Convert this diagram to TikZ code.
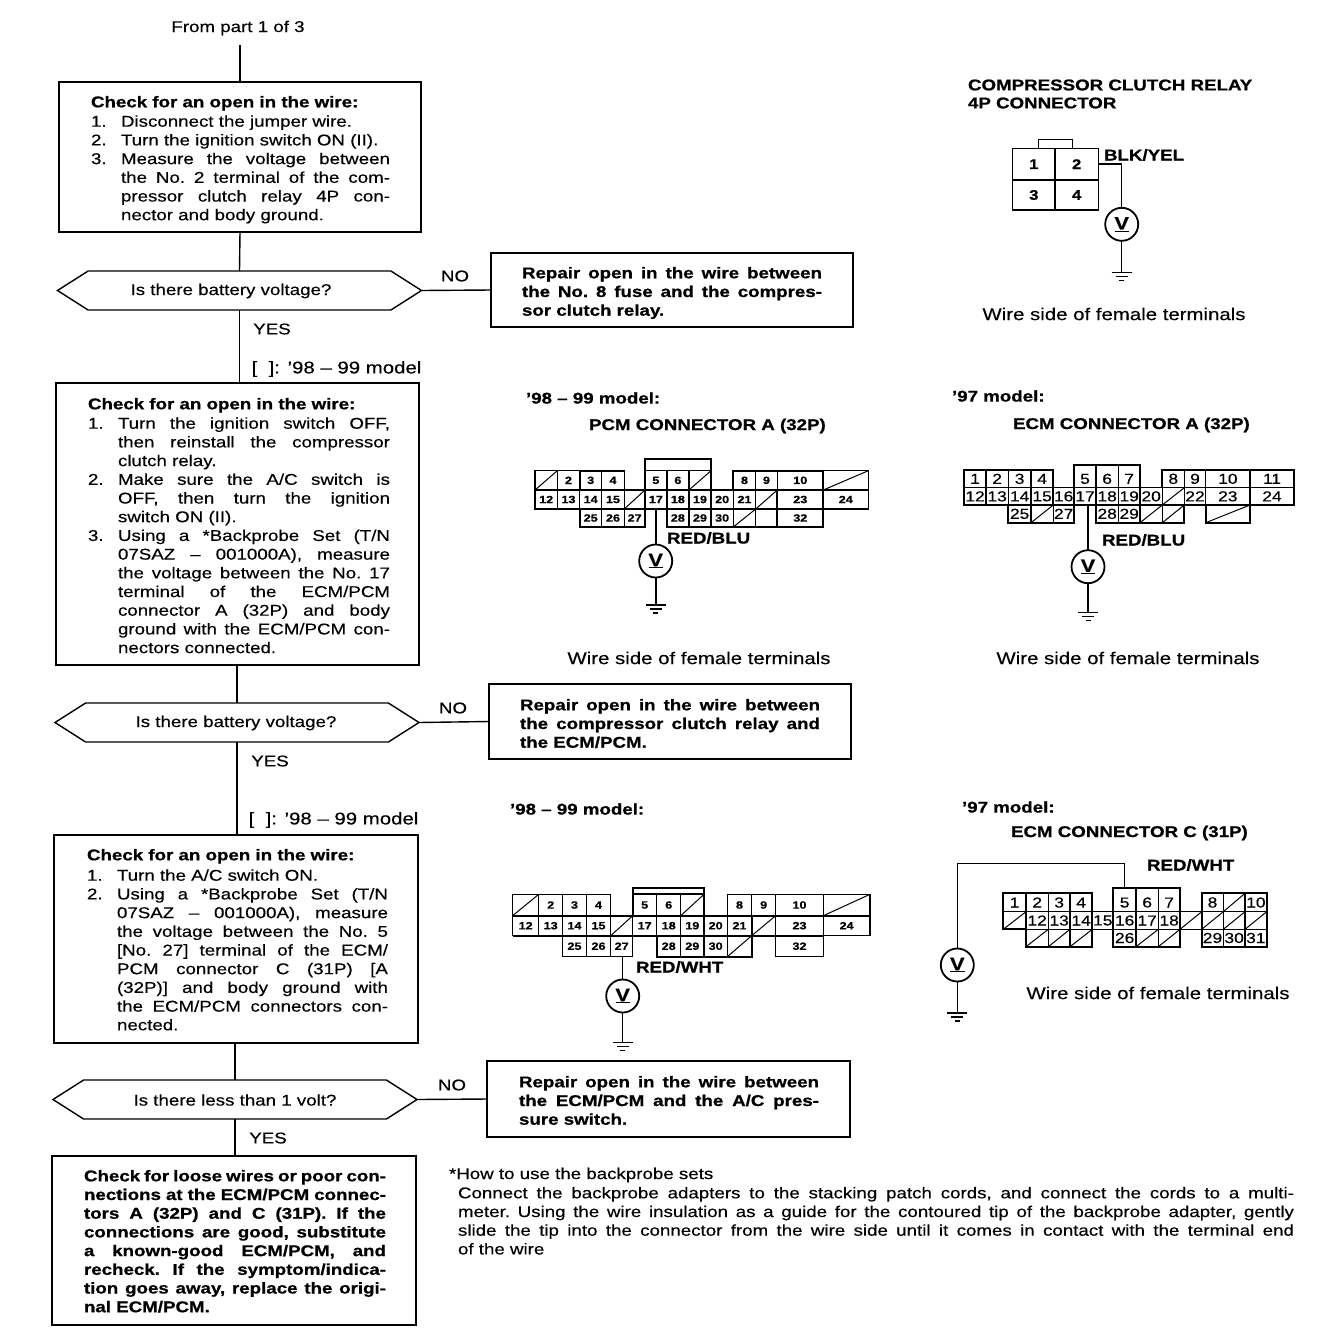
\documentclass[tikz,border=0pt]{standalone}
\usepackage{fontspec}
\setmainfont{Liberation Sans}[FakeStretch=1.2,UprightFeatures={FakeBold=0.35},BoldFeatures={FakeBold=0.8}]
\usetikzlibrary{shapes.symbols}

\newcommand{\bodyfont}{\fontsize{15.6}{18.7}\selectfont\frenchspacing}
\newlength{\hangw}\setlength{\hangw}{30pt}
% numbered step with hanging text
\newcommand{\stepitem}[2]{\par\hangindent=\hangw\hangafter=1\noindent\hbox to \hangw{#1\hfil}#2\par}
% one row of numbered pins: name prefix, top, bottom, xa/xb/number
\newcommand{\pinrow}[4]{\foreach \xa/\xb/\n in {#4}{
    \node[pin,minimum width={(\xb-\xa)*1pt},minimum height={(#3-#2)*1pt}] (#1\n) at ({(\xa+\xb)/2},{(#2+#3)/2}) {\n};}}
% same, empty pins with a stroke through them
\newcommand{\voidrow}[4]{\foreach \xa/\xb [count=\k] in {#4}{
    \node[pin,void,minimum width={(\xb-\xa)*1pt},minimum height={(#3-#2)*1pt}] (#1\k) at ({(\xa+\xb)/2},{(#2+#3)/2}) {};}}

\tikzset{
  every node/.style={inner sep=0pt,outer sep=0pt},
  wirethin/.style={line width=1.4pt},
  flowbox/.style={draw,line width=1.4pt,anchor=north west},
  steptext/.style={anchor=north west,text width=#1,align=justify,font=\bodyfont},
  boldtext/.style={steptext=#1,font=\bodyfont\bfseries},
  decide/.style={draw,line width=1.4pt,signal,signal to=west and east,signal pointer angle=65,
    minimum width=364pt,minimum height=39pt},
  lab/.style={font=\bodyfont},
  sidelab/.style={font=\fontsize{17}{19}\selectfont},
  headlab/.style={font=\bodyfont\bfseries},
  pin/.style={draw,line width=1.1pt,font=\fontsize{10.5}{12}\selectfont\bfseries},
  ecmpin/.style={pin/.append style={font=\fontsize{14.5}{16}\selectfont}},
  droppin/.style={pin/.append style={text height=15pt,text depth=0pt}},
  void/.style={path picture={\draw[line width=1pt] (path picture bounding box.south west)--(path picture bounding box.north east);}},
  meter/.style={draw,circle,line width=1.8pt,minimum size=33pt,font=\fontsize{18}{18}\selectfont\bfseries},
  gnd/.pic={\draw[line width=1.3pt] (-10,0)--(10,0) (-6,4)--(6,4) (-2.5,8)--(2.5,8);},
  shell/.style={line width=2.3pt}
}

\begin{document}
\begin{tikzpicture}[x=1pt,y=-1pt,line cap=butt,line join=miter]
  \useasboundingbox (0,0) rectangle (1344,1334);

  % ---- flow, left column ----
  \node[lab,minimum height=34pt] (from) at (238,28) {From part 1 of 3};
  \node[flowbox,minimum width=362pt,minimum height=150pt] (box1) at (59,82) {};
  \node[boldtext=299pt] (txt1h) at (91,96) {Check for an open in the wire:};
  \node[steptext=299pt] (txt1) at (91,108) {%
    \stepitem{1.}{Disconnect the jumper wire.}
    \stepitem{2.}{Turn the ignition switch ON (II).}
    \stepitem{3.}{Measure the voltage between\linebreak the No. 2 terminal of the com-\linebreak pressor clutch relay 4P con-\linebreak nector and body ground.}};
  \node[decide] (dec1) at (239.5,290.5) {};
  \node[lab] (dec1t) at (231,291) {Is there battery voltage?};
  \node[flowbox,minimum width=362pt,minimum height=74pt] (rep1) at (491,253) {};
  \node[boldtext=300pt] (rep1t) at (522,267) {Repair open in the wire between\linebreak the No. 8 fuse and the compres-\linebreak sor clutch relay.};
  \node[lab] (no1) at (455,276) {NO};
  \node[lab] (yes1) at (272,329) {YES};
  \node[sidelab] (mod1) at (336.5,369) {[ \ ]: ’98 – 99 model};
  \node[flowbox,minimum width=363pt,minimum height=282pt] (box2) at (56,383) {};
  \node[boldtext=302pt] (txt2h) at (88,398) {Check for an open in the wire:};
  \node[steptext=302pt] (txt2) at (88,410) {%
    \stepitem{1.}{Turn the ignition switch OFF,\linebreak then reinstall the compressor\linebreak clutch relay.}
    \stepitem{2.}{Make sure the A/C switch is\linebreak OFF, then turn the ignition\linebreak switch ON (II).}
    \stepitem{3.}{Using a *Backprobe Set (T/N\linebreak 07SAZ – 001000A), measure\linebreak the voltage between the No. 17\linebreak terminal of the ECM/PCM\linebreak connector A (32P) and body\linebreak ground with the ECM/PCM con-\linebreak nectors connected.}};
  \node[decide] (dec2) at (237,722.5) {};
  \node[lab] (dec2t) at (236,723) {Is there battery voltage?};
  \node[flowbox,minimum width=362pt,minimum height=75pt] (rep2) at (489,684) {};
  \node[boldtext=300pt] (rep2t) at (520,699) {Repair open in the wire between\linebreak the compressor clutch relay and\linebreak the ECM/PCM.};
  \node[lab] (no2) at (453,708) {NO};
  \node[lab] (yes2) at (270,761) {YES};
  \node[sidelab] (mod2) at (333.5,820) {[ \ ]: ’98 – 99 model};
  \node[flowbox,minimum width=364pt,minimum height=208pt] (box3) at (54,835) {};
  \node[boldtext=301pt] (txt3h) at (87,849) {Check for an open in the wire:};
  \node[steptext=301pt] (txt3) at (87,862) {%
    \stepitem{1.}{Turn the A/C switch ON.}
    \stepitem{2.}{Using a *Backprobe Set (T/N\linebreak 07SAZ – 001000A), measure\linebreak the voltage between the No. 5\linebreak{}[No. 27] terminal of the ECM/\linebreak PCM connector C (31P) [A\linebreak (32P)] and body ground with\linebreak the ECM/PCM connectors con-\linebreak nected.}};
  \node[decide] (dec3) at (235,1099.5) {};
  \node[lab] (dec3t) at (235,1100) {Is there less than 1 volt?};
  \node[flowbox,minimum width=363pt,minimum height=76pt] (rep3) at (487,1061) {};
  \node[boldtext=300pt] (rep3t) at (519,1076) {Repair open in the wire between\linebreak the ECM/PCM and the A/C pres-\linebreak sure switch.};
  \node[lab] (no3) at (452,1085) {NO};
  \node[lab] (yes3) at (268,1138) {YES};
  \node[flowbox,minimum width=364pt,minimum height=169pt] (box4) at (52,1156) {};
  \node[boldtext=302pt] (txt4) at (84,1170) {Check for loose wires or poor con-\linebreak nections at the ECM/PCM connec-\linebreak tors A (32P) and C (31P). If the\linebreak connections are good, substitute\linebreak a known-good ECM/PCM, and\linebreak recheck. If the symptom/indica-\linebreak tion goes away, replace the origi-\linebreak nal ECM/PCM.};
  \draw[wirethin] (box1.north |- from.south) -- (box1.north);
  \draw[wirethin] (box1.south) -- (dec1.north);
  \draw[wirethin] (dec1.south) -- (dec1.south |- box2.north);
  \draw[wirethin] (dec2.north |- box2.south) -- (dec2.north);
  \draw[wirethin] (dec2.south) -- (dec2.south |- box3.north);
  \draw[wirethin] (dec3.north |- box3.south) -- (dec3.north);
  \draw[wirethin] (dec3.south) -- (dec3.south |- box4.north);
  \draw[wirethin] (dec1.east) -- (rep1.west);
  \draw[wirethin] (dec2.east) -- (rep2.west);
  \draw[wirethin] (dec3.east) -- (rep3.west);

  % ---- backprobe note ----
  \node[lab,anchor=west] (noteh) at (449,1175) {*How to use the backprobe sets};
  \node[steptext=836pt] (note) at (458,1187) {Connect the backprobe adapters to the stacking patch cords, and connect the cords to a multi-\linebreak meter. Using the wire insulation as a guide for the contoured tip of the backprobe adapter, gently\linebreak slide the tip into the connector from the wire side until it comes in contact with the terminal end\linebreak of the wire};

  % ---- relay 4P ----
  \node[headlab,anchor=west] (t4p) at (968,85) {COMPRESSOR CLUTCH RELAY};
  \node[headlab,anchor=west] (t4pb) at (968,103) {4P CONNECTOR};
  \begin{scope}[pin/.append style={font=\fontsize{14}{16}\selectfont\bfseries,line width=1.5pt}]
    \pinrow{rl}{148.3}{180}{1012.7/1055/1,1055/1098.3/2}
    \pinrow{rl}{180}{210}{1012.7/1055/3,1055/1098.3/4}
  \end{scope}
  \draw[line width=1.1pt] (1038.3,148.3) |- (1072.7,139.3) -- (1072.7,148.3);
  \node[headlab,anchor=west] (bly) at (1104,155) {BLK/YEL};
  \node[meter] (mrl) at (1121.7,224.3) {\underline{V}};
  \coordinate (grl) at (1121.7,272.7);
  \draw[wirethin] (rl2.east) -| (mrl.north);
  \draw[wirethin] (mrl.south) -- (grl);
  \pic at (grl) {gnd};
  \node[sidelab] (wsrl) at (1114,314) {Wire side of female terminals};

  % ---- PCM connector A ----
  \node[headlab,anchor=west] (m98a) at (526,398) {’98 – 99 model:};
  \node[headlab,anchor=west] (tpa) at (589,426) {PCM CONNECTOR A (32P)};
  \voidrow{pav}{470.7}{490}{535/557.3,689/711,823.3/868.3}
  \pinrow{pa}{470.7}{490}{557.3/579.7/2,579.7/601.7/3,601.7/624.3/4,645/666.7/5,666.7/689/6,733.3/755.7/8,755.7/777.3/9,777.3/823.3/10}
  \voidrow{pav4}{490}{509}{624.3/645,755.7/777.3}
  \pinrow{pa}{490}{509}{535/557.3/12,557.3/579.7/13,579.7/601.7/14,601.7/624.3/15,645/666.7/17,666.7/689/18,689/711/19,711/733.3/20,733.3/755.7/21,777.3/823.3/23,823.3/868.3/24}
  \voidrow{pav7}{509}{527}{733.3/755.7}
  \pinrow{pa}{509}{527}{579.7/601.7/25,601.7/624.3/26,624.3/645/27,666.7/689/28,689/711/29,711/733.3/30,777.3/823.3/32}
  \draw[shell] (645,470.7) |- (711,459.3) -- (711,470.7);
  \draw[shell] (579.7,490) |- (624.3,470.7) (579.7,509) |- (645,527) -- (645,509);
  \draw[shell] (666.7,470.7) -- (666.7,527) -| (777.3,490) (711,490) -- (711,527) (733.3,490) |- (823.3,470.7) -- (823.3,527) -| (777.3,509);
  \node[headlab,anchor=west] (rba) at (667,538) {RED/BLU};
  \node[meter] (mpa) at (655.7,561) {\underline{V}};
  \coordinate (gpa) at (655.7,605);
  \draw[line width=2pt] (pa17.south -| mpa.north) -- (mpa.north);
  \draw[line width=2pt] (mpa.south) -- (gpa);
  \pic at (gpa) {gnd};
  \node[sidelab] (wspa) at (699,658) {Wire side of female terminals};

  % ---- ECM connector A ----
  \node[headlab,anchor=west] (m97a) at (952,396) {’97 model:};
  \node[headlab,anchor=west] (tea) at (1013,425) {ECM CONNECTOR A (32P)};
  \begin{scope}[ecmpin]
    \pinrow{ea}{470}{487.7}{964/986/1,986/1008.3/2,1008.3/1031/3,1031/1053.3/4,1162.3/1184.3/8,1184.3/1205.7/9,1205.7/1250/10,1250/1294/11}
    \begin{scope}[droppin]
      \pinrow{ea}{465}{487.7}{1074/1096/5,1096/1118.3/6,1118.3/1140/7}
    \end{scope}
    \pinrow{ea}{487.7}{505}{964/986/12,986/1008.3/13,1008.3/1031/14,1031/1053.3/15,1053.3/1074/16,1074/1096/17,1096/1118.3/18,1118.3/1140/19,1140/1162.3/20,1184.3/1205.7/22,1205.7/1250/23,1250/1294/24}
    \voidrow{eav}{487.7}{505}{1162.3/1184.3}
    \pinrow{ea}{505}{522.7}{1008.3/1031/25,1053.3/1074/27,1096/1118.3/28,1118.3/1140/29}
    \voidrow{eaw}{505}{522.7}{1031/1053.3,1140/1162.3,1162.3/1184.3,1205.7/1250}
  \end{scope}
  \draw[shell] (964,470) rectangle (1053.3,505) (1074,487.7) |- (1140,465) -- (1140,487.7);
  \draw[shell] (1008.3,505) |- (1074,522.7) -- (1074,505) (1096,505) |- (1184.3,522.7) -- (1184.3,505) (1162.3,487.7) |- (1294,470) |- (1140,505) (1205.7,505) |- (1250,522.7) -- (1250,505);
  \node[headlab,anchor=west] (rbb) at (1102,540) {RED/BLU};
  \node[meter] (mea) at (1088,566.7) {\underline{V}};
  \coordinate (gea) at (1088,612.7);
  \draw[wirethin] (ea17.south -| mea.north) -- (mea.north);
  \draw[wirethin] (mea.south) -- (gea);
  \pic at (gea) {gnd};
  \node[sidelab] (wsea) at (1128,658) {Wire side of female terminals};

  % ---- PCM connector A, second probe ----
  \node[headlab,anchor=west] (m98c) at (510,809) {’98 – 99 model:};
  \voidrow{pcv}{894.3}{915.7}{512.7/538.7,680.7/704,823.3/870}
  \pinrow{pc}{894.3}{915.7}{538.7/562.7/2,562.7/586.3/3,586.3/610.7/4,632.7/656.7/5,656.7/680.7/6,727.3/751.7/8,751.7/775.7/9,775.7/823.3/10}
  \voidrow{pcv4}{915.7}{935.7}{610.7/632.7,751.7/775.7}
  \pinrow{pc}{915.7}{935.7}{512.7/538.7/12,538.7/562.7/13,562.7/586.3/14,586.3/610.7/15,632.7/656.7/17,656.7/680.7/18,680.7/704/19,704/727.3/20,727.3/751.7/21,775.7/823.3/23,823.3/870/24}
  \voidrow{pcv7}{935.7}{956.7}{727.3/751.7}
  \pinrow{pc}{935.7}{956.7}{562.7/586.3/25,586.3/610.7/26,610.7/632.7/27,656.7/680.7/28,680.7/704/29,704/727.3/30,775.7/823.3/32}
  \draw[shell] (632.7,915.7) |- (704,888.3) -- (704,915.7) (632.7,894.3) -- (704,894.3);
  \draw[shell] (512.7,915.7) -- (870,915.7) (512.7,935.7) -- (823.3,935.7) (656.7,935.7) |- (751.7,956.7) -- (751.7,915.7);
  \node[headlab,anchor=west] (rwa) at (636,967) {RED/WHT};
  \node[meter] (mpc) at (622.7,996) {\underline{V}};
  \coordinate (gpc) at (622.7,1042.7);
  \draw[wirethin] (pc27.south -| mpc.north) -- (mpc.north);
  \draw[wirethin] (mpc.south) -- (gpc);
  \pic at (gpc) {gnd};

  % ---- ECM connector C ----
  \node[headlab,anchor=west] (m97c) at (962,807) {’97 model:};
  \node[headlab,anchor=west] (tec) at (1011,833) {ECM CONNECTOR C (31P)};
  \begin{scope}[ecmpin]
    \pinrow{ec}{893.3}{911.7}{1003.3/1026/1,1026/1048.3/2,1048.3/1070/3,1070/1092.3/4,1201.7/1223.3/8,1245/1266.7/10}
    \begin{scope}[droppin]
      \pinrow{ec}{888.3}{911.7}{1113.3/1136/5,1136/1158.3/6,1158.3/1180/7}
    \end{scope}
    \voidrow{ecu}{893.3}{911.7}{1223.3/1245}
    \pinrow{ec}{911.7}{929.3}{1026/1048.3/12,1048.3/1070/13,1070/1092.3/14,1092.3/1113.3/15,1113.3/1136/16,1136/1158.3/17,1158.3/1180/18}
    \voidrow{ecv}{911.7}{929.3}{1003.3/1026,1180/1201.7,1201.7/1223.3,1223.3/1245,1245/1266.7}
    \pinrow{ec}{929.3}{946.7}{1113.3/1136/26,1201.7/1223.3/29,1223.3/1245/30,1245/1266.7/31}
    \voidrow{ecw}{929.3}{946.7}{1026/1048.3,1048.3/1070,1070/1092.3,1136/1158.3,1158.3/1180}
  \end{scope}
  \draw[shell] (1003.3,929.3) |- (1092.3,893.3) -- (1092.3,946.7) -| (1026,929.3) -- cycle (1113.3,888.3) rectangle (1180,946.7) (1201.7,893.3) rectangle (1266.7,946.7);
  \node[headlab,anchor=west] (rwb) at (1147,865) {RED/WHT};
  \node[meter] (mec) at (957.3,965) {\underline{V}};
  \coordinate (gec) at (957.3,1013);
  \draw[wirethin] (ec5.north) |- (957.3,863.3) -- (mec.north);
  \draw[wirethin] (mec.south) -- (gec);
  \pic at (gec) {gnd};
  \node[sidelab] (wsec) at (1158,993) {Wire side of female terminals};
\end{tikzpicture}
\end{document}
